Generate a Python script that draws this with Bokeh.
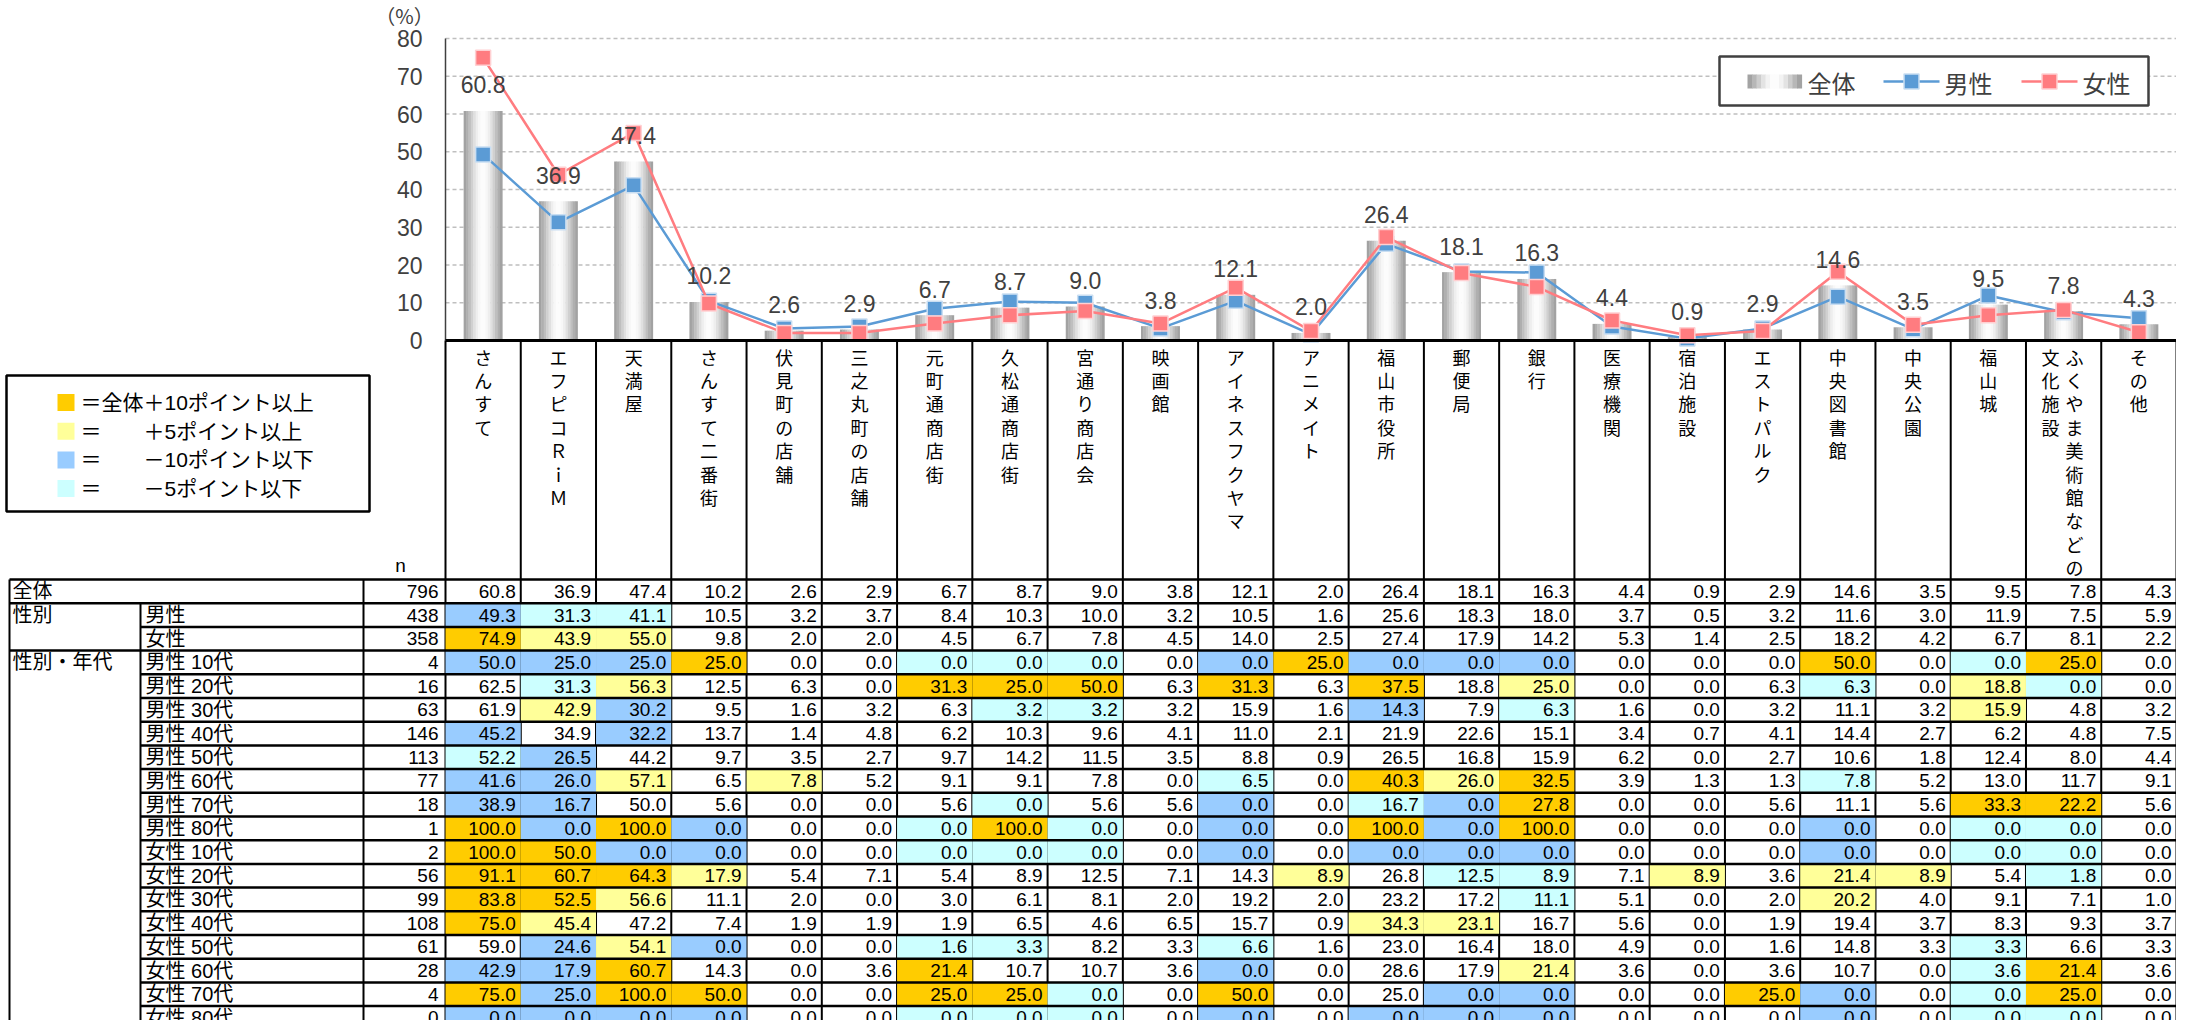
import math
from bokeh.plotting import figure
from bokeh.models import Range1d
from bokeh.core.properties import value
from bokeh.embed import file_html
from bokeh.resources import INLINE

# ---------------- data ----------------
categories = ["さんすて", "エフピコＲｉＭ", "天満屋", "さんすて二番街", "伏見町の店舗", "三之丸町の店舗",
              "元町通商店街", "久松通商店街", "宮通り商店会", "映画館", "アイネスフクヤマ", "アニメイト",
              "福山市役所", "郵便局", "銀行", "医療機関", "宿泊施設", "エストパルク", "中央図書館",
              "中央公園", "福山城", "ふくやま美術館などの文化施設", "その他"]

row_total = [60.8, 36.9, 47.4, 10.2, 2.6, 2.9, 6.7, 8.7, 9.0, 3.8, 12.1, 2.0, 26.4, 18.1, 16.3, 4.4, 0.9, 2.9, 14.6, 3.5, 9.5, 7.8, 4.3]
row_male = [49.3, 31.3, 41.1, 10.5, 3.2, 3.7, 8.4, 10.3, 10.0, 3.2, 10.5, 1.6, 25.6, 18.3, 18.0, 3.7, 0.5, 3.2, 11.6, 3.0, 11.9, 7.5, 5.9]
row_female = [74.9, 43.9, 55.0, 9.8, 2.0, 2.0, 4.5, 6.7, 7.8, 4.5, 14.0, 2.5, 27.4, 17.9, 14.2, 5.3, 1.4, 2.5, 18.2, 4.2, 6.7, 8.1, 2.2]
row_m10 = [50.0, 25.0, 25.0, 25.0, 0.0, 0.0, 0.0, 0.0, 0.0, 0.0, 0.0, 25.0, 0.0, 0.0, 0.0, 0.0, 0.0, 0.0, 50.0, 0.0, 0.0, 25.0, 0.0]
row_m20 = [62.5, 31.3, 56.3, 12.5, 6.3, 0.0, 31.3, 25.0, 50.0, 6.3, 31.3, 6.3, 37.5, 18.8, 25.0, 0.0, 0.0, 6.3, 6.3, 0.0, 18.8, 0.0, 0.0]
row_m30 = [61.9, 42.9, 30.2, 9.5, 1.6, 3.2, 6.3, 3.2, 3.2, 3.2, 15.9, 1.6, 14.3, 7.9, 6.3, 1.6, 0.0, 3.2, 11.1, 3.2, 15.9, 4.8, 3.2]
row_m40 = [45.2, 34.9, 32.2, 13.7, 1.4, 4.8, 6.2, 10.3, 9.6, 4.1, 11.0, 2.1, 21.9, 22.6, 15.1, 3.4, 0.7, 4.1, 14.4, 2.7, 6.2, 4.8, 7.5]
row_m50 = [52.2, 26.5, 44.2, 9.7, 3.5, 2.7, 9.7, 14.2, 11.5, 3.5, 8.8, 0.9, 26.5, 16.8, 15.9, 6.2, 0.0, 2.7, 10.6, 1.8, 12.4, 8.0, 4.4]
row_m60 = [41.6, 26.0, 57.1, 6.5, 7.8, 5.2, 9.1, 9.1, 7.8, 0.0, 6.5, 0.0, 40.3, 26.0, 32.5, 3.9, 1.3, 1.3, 7.8, 5.2, 13.0, 11.7, 9.1]
row_m70 = [38.9, 16.7, 50.0, 5.6, 0.0, 0.0, 5.6, 0.0, 5.6, 5.6, 0.0, 0.0, 16.7, 0.0, 27.8, 0.0, 0.0, 5.6, 11.1, 5.6, 33.3, 22.2, 5.6]
row_m80 = [100.0, 0.0, 100.0, 0.0, 0.0, 0.0, 0.0, 100.0, 0.0, 0.0, 0.0, 0.0, 100.0, 0.0, 100.0, 0.0, 0.0, 0.0, 0.0, 0.0, 0.0, 0.0, 0.0]
row_f10 = [100.0, 50.0, 0.0, 0.0, 0.0, 0.0, 0.0, 0.0, 0.0, 0.0, 0.0, 0.0, 0.0, 0.0, 0.0, 0.0, 0.0, 0.0, 0.0, 0.0, 0.0, 0.0, 0.0]
row_f20 = [91.1, 60.7, 64.3, 17.9, 5.4, 7.1, 5.4, 8.9, 12.5, 7.1, 14.3, 8.9, 26.8, 12.5, 8.9, 7.1, 8.9, 3.6, 21.4, 8.9, 5.4, 1.8, 0.0]
row_f30 = [83.8, 52.5, 56.6, 11.1, 2.0, 0.0, 3.0, 6.1, 8.1, 2.0, 19.2, 2.0, 23.2, 17.2, 11.1, 5.1, 0.0, 2.0, 20.2, 4.0, 9.1, 7.1, 1.0]
row_f40 = [75.0, 45.4, 47.2, 7.4, 1.9, 1.9, 1.9, 6.5, 4.6, 6.5, 15.7, 0.9, 34.3, 23.1, 16.7, 5.6, 0.0, 1.9, 19.4, 3.7, 8.3, 9.3, 3.7]
row_f50 = [59.0, 24.6, 54.1, 0.0, 0.0, 0.0, 1.6, 3.3, 8.2, 3.3, 6.6, 1.6, 23.0, 16.4, 18.0, 4.9, 0.0, 1.6, 14.8, 3.3, 3.3, 6.6, 3.3]
row_f60 = [42.9, 17.9, 60.7, 14.3, 0.0, 3.6, 21.4, 10.7, 10.7, 3.6, 0.0, 0.0, 28.6, 17.9, 21.4, 3.6, 0.0, 3.6, 10.7, 0.0, 3.6, 21.4, 3.6]
row_f70 = [75.0, 25.0, 100.0, 50.0, 0.0, 0.0, 25.0, 25.0, 0.0, 0.0, 50.0, 0.0, 25.0, 0.0, 0.0, 0.0, 0.0, 25.0, 0.0, 0.0, 0.0, 25.0, 0.0]
row_f80 = [0.0, 0.0, 0.0, 0.0, 0.0, 0.0, 0.0, 0.0, 0.0, 0.0, 0.0, 0.0, 0.0, 0.0, 0.0, 0.0, 0.0, 0.0, 0.0, 0.0, 0.0, 0.0, 0.0]

row_labels = ["全体", "男性", "女性", "男性 10代", "男性 20代", "男性 30代", "男性 40代", "男性 50代",
              "男性 60代", "男性 70代", "男性 80代", "女性 10代", "女性 20代", "女性 30代", "女性 40代",
              "女性 50代", "女性 60代", "女性 70代", "女性 80代"]
n_values = [796, 438, 358, 4, 16, 63, 146, 113, 77, 18, 1, 2, 56, 99, 108, 61, 28, 4, 0]
group_labels = [("性別", 1), ("性別・年代", 3)]

# highlight flags (O: +10pt, Y: +5pt, B: -10pt, C: -5pt)
flag_total = "......................."
flag_male = "BCC...................."
flag_female = "OYY...................."
flag_m10 = "BBBO..CCC.BOBBB...O.CO."
flag_m20 = ".CY...OOO.O.O.Y...C.YC."
flag_m30 = ".YB....CC...B.C.....Y.."
flag_m40 = "B.B...................."
flag_m50 = "CB....................."
flag_m60 = "BBY.Y.....C.OYO...C...."
flag_m70 = "BB.....C..B.CBO.....OO."
flag_m80 = "OBOB..COC.B.OBO...B.CC."
flag_f10 = "OOBB..CCC.B.BBB...B.CC."
flag_f20 = "OOOY.......Y.CC.Y.YY.C."
flag_f30 = "OOY...........C...Y...."
flag_f40 = "OY..........YY........."
flag_f50 = ".BYB..CC..C.........C.."
flag_f60 = "BBO...O...B...Y.....CO."
flag_f70 = "OBOO..OOC.O..BB..OB.CO."
flag_f80 = "BBBB..CCC.B.BBB...B.CC."

table_rows = [row_total, row_male, row_female, row_m10, row_m20, row_m30, row_m40, row_m50, row_m60,
              row_m70, row_m80, row_f10, row_f20, row_f30, row_f40, row_f50, row_f60, row_f70, row_f80]
table_flags = [flag_total, flag_male, flag_female, flag_m10, flag_m20, flag_m30, flag_m40, flag_m50, flag_m60,
               flag_m70, flag_m80, flag_f10, flag_f20, flag_f30, flag_f40, flag_f50, flag_f60, flag_f70, flag_f80]

legend_flag_texts = ["＝全体＋10ポイント以上", "＝　　＋5ポイント以上", "＝　　－10ポイント以下", "＝　　－5ポイント以下"]
legend_flag_keys = ["O", "Y", "B", "C"]
y_ticks = [0, 10, 20, 30, 40, 50, 60, 70, 80]

# ---------------- styles / layout ----------------
FLAG_COL = {"O": "#ffcc00", "Y": "#ffff99", "B": "#99ccff", "C": "#ccffff"}
BLUE = "#5b9bd5"
PINK = "#ff7c80"
TXT = "#404040"
CJK = "Noto Sans CJK JP"
NARROW = "Liberation Sans, Noto Sans CJK JP"

FW, FH = 2176, 1020
COL0 = 445.0
NC = len(categories)
W = (FW - COL0) / NC
VT, V0 = 38.0, 340.0
K = (V0 - VT) / 80.0
TOP = 579.0
RH = 23.7


def Y(py):
    return FH - py


p = figure(width=FW, height=FH, x_range=Range1d(-COL0 / W, NC),
           y_range=Range1d(-(FH - V0) / K, 80 + VT / K),
           output_backend="svg", toolbar_location=None,
           x_axis_location=None, y_axis_location=None, min_border=0)
p.extra_x_ranges = {"px": Range1d(0, FW)}
p.extra_y_ranges = {"py": Range1d(0, FH)}
p.grid.visible = False
p.outline_line_color = None
p.background_fill_color = "white"
p.border_fill_color = "white"

xc = [i + 0.5 for i in range(NC)]

# grid lines
gt = y_ticks[1:]
p.segment(x0=[0] * len(gt), x1=[NC] * len(gt), y0=gt, y1=gt,
          line_color="#bfbfbf", line_dash="4 3", line_width=1.5)

# gradient bars
NS = 16
bw = 38.6 / W


def shade(t):
    b = int(round(158 + 95 * math.sin(math.pi * t) ** 1.4))
    return "#%02x%02x%02x" % (b, b, b)


bx, btop, bcol = [], [], []
for i, v in enumerate(row_total):
    for k in range(NS):
        t = (k + 0.5) / NS
        bx.append(i + 0.5 - bw / 2 + t * bw)
        btop.append(v)
        bcol.append(shade(t))
p.vbar(x=bx, width=bw / NS * 1.15, top=btop, bottom=0, fill_color=bcol, line_color=None)

# axes
p.segment(x0=[0], x1=[0], y0=[0], y1=[80], line_color=TXT, line_width=1.5)
p.text(x=[422] * len(y_ticks), y=y_ticks, x_range_name="px", text=[str(t) for t in y_ticks],
       text_align="right", text_baseline="middle", text_font=value(NARROW),
       text_font_size="23px", text_color=TXT)
p.text(x=[404], y=[Y(15)], x_range_name="px", y_range_name="py", text=["（%）"],
       text_align="center", text_baseline="middle", text_font=value(CJK),
       text_font_size="20px", text_color=TXT)

# lines
p.line(xc, row_male, line_color=BLUE, line_width=2.5)
p.scatter(xc, row_male, marker="square", size=15, fill_color=BLUE, line_color="#c9def2", line_width=1.5)
p.line(xc, row_female, line_color=PINK, line_width=2.5)
p.scatter(xc, row_female, marker="square", size=15, fill_color=PINK, line_color="#ffd0d2", line_width=1.5)

# data labels
p.text(x=xc, y=[v + 26 / K for v in row_total], text=["%.1f" % v for v in row_total],
       text_align="center", text_baseline="middle", text_font=value(NARROW),
       text_font_size="23px", text_color=TXT)

# bottom axis line
p.segment(x0=[0], x1=[NC], y0=[0], y1=[0], line_color="black", line_width=3)

# column separators (label area + table)
p.segment(x0=list(range(NC + 1)), x1=list(range(NC + 1)), y0=[Y(V0)] * (NC + 1), y1=[Y(FH)] * (NC + 1),
          y_range_name="py", line_color="black", line_width=2)

# vertical category labels
cx, cy, ct = [], [], []
for i, name in enumerate(categories):
    chars = list(name)
    cols = [chars[:10], chars[10:]] if len(chars) > 10 else [chars]
    offs = [11, -13] if len(cols) > 1 else [0]
    for col, off in zip(cols, offs):
        for j, ch in enumerate(col):
            cx.append(i + 0.5 + off / W)
            cy.append(Y(356 + 23.4 * j))
            ct.append(ch)
p.text(x=cx, y=cy, y_range_name="py", text=ct, text_align="center", text_baseline="middle",
       text_font=value(CJK), text_font_size="18px", text_color="black")

p.text(x=[400], y=[Y(565)], x_range_name="px", y_range_name="py", text=["n"],
       text_align="center", text_baseline="middle", text_font=value(NARROW),
       text_font_size="19px", text_color="black")

# table cells
ql, qr, qt, qb, qc = [], [], [], [], []
for r, flags in enumerate(table_flags):
    for i, f in enumerate(flags):
        if f in FLAG_COL:
            ql.append(i)
            qr.append(i + 1)
            qt.append(Y(TOP + RH * r))
            qb.append(Y(TOP + RH * (r + 1)))
            qc.append(FLAG_COL[f])
p.quad(left=ql, right=qr, top=qt, bottom=qb, y_range_name="py", fill_color=qc, line_color=None)

tx, ty, tt = [], [], []
for r, row in enumerate(table_rows):
    for i, v in enumerate(row):
        tx.append(i + 1 - 5 / W)
        ty.append(Y(TOP + RH * (r + 0.5)))
        tt.append("%.1f" % v)
p.text(x=tx, y=ty, y_range_name="py", text=tt, text_align="right", text_baseline="middle",
       text_font=value(NARROW), text_font_size="19px", text_color="black")

rows_y = [Y(TOP + RH * (r + 0.5)) for r in range(len(row_labels))]
p.text(x=[438] * len(n_values), y=rows_y, x_range_name="px", y_range_name="py",
       text=[str(n) for n in n_values], text_align="right", text_baseline="middle",
       text_font=value(NARROW), text_font_size="19px", text_color="black")
lab_x = [12] + [145] * (len(row_labels) - 1)
p.text(x=lab_x, y=rows_y, x_range_name="px", y_range_name="py", text=row_labels,
       text_align="left", text_baseline="middle", text_font=value(NARROW),
       text_font_size="20px", text_color="black")
p.text(x=[12] * len(group_labels), y=[rows_y[r] for _, r in group_labels], x_range_name="px",
       y_range_name="py", text=[g for g, _ in group_labels], text_align="left", text_baseline="middle",
       text_font=value(NARROW), text_font_size="20px", text_color="black")

# table rule lines
hx0, hy = [], []
for r in range(len(row_labels)):
    hx0.append(9 if r in (0, 1, 3) else 140)
    hy.append(Y(TOP + RH * r))
p.segment(x0=hx0, x1=[FW] * len(hx0), y0=hy, y1=hy, x_range_name="px", y_range_name="py",
          line_color="black", line_width=2.5)
p.segment(x0=[9, 140, 363], x1=[9, 140, 363], y0=[Y(TOP), Y(TOP + RH), Y(TOP)], y1=[Y(FH)] * 3,
          x_range_name="px", y_range_name="py", line_color="black", line_width=2)

# left legend (highlight rules)
p.quad(left=[6], right=[369], top=[Y(375)], bottom=[Y(511)], x_range_name="px", y_range_name="py",
       fill_color="white", line_color="black", line_width=2.5)
ly = [402 + 28.7 * k for k in range(len(legend_flag_keys))]
p.quad(left=[57] * 4, right=[74] * 4, top=[Y(v - 8.5) for v in ly], bottom=[Y(v + 8.5) for v in ly],
       x_range_name="px", y_range_name="py", fill_color=[FLAG_COL[k] for k in legend_flag_keys],
       line_color=None)
p.text(x=[80] * 4, y=[Y(v) for v in ly], x_range_name="px", y_range_name="py", text=legend_flag_texts,
       text_align="left", text_baseline="middle", text_font=value(NARROW), text_font_size="21px",
       text_color="black")

# series legend (top right)
p.quad(left=[1719], right=[2148], top=[Y(56)], bottom=[Y(105)], x_range_name="px", y_range_name="py",
       fill_color="white", line_color=TXT, line_width=2.5)
LNS = 12
sl, sr, scol = [], [], []
for k in range(LNS):
    t = (k + 0.5) / LNS
    sl.append(1747 + 54 * k / LNS)
    sr.append(1747 + 54 * (k + 1) / LNS + 0.6)
    scol.append(shade(t))
p.quad(left=sl, right=sr, top=[Y(74)] * LNS, bottom=[Y(88)] * LNS, x_range_name="px", y_range_name="py",
       fill_color=scol, line_color=None)
p.segment(x0=[1883, 2021], x1=[1939, 2077], y0=[Y(81), Y(81)], y1=[Y(81), Y(81)], x_range_name="px",
          y_range_name="py", line_color=[BLUE, PINK], line_width=2.5)
p.scatter(x=[1911, 2049], y=[Y(81), Y(81)], x_range_name="px", y_range_name="py", marker="square",
          size=15, fill_color=[BLUE, PINK], line_color=["#c9def2", "#ffd0d2"], line_width=1.5)
p.text(x=[1807, 1944, 2082], y=[Y(82)] * 3, x_range_name="px", y_range_name="py",
       text=["全体", "男性", "女性"], text_align="left", text_baseline="middle", text_font=value(CJK),
       text_font_size="24px", text_color=TXT)

open("out.html", "w").write(file_html(p, INLINE))
